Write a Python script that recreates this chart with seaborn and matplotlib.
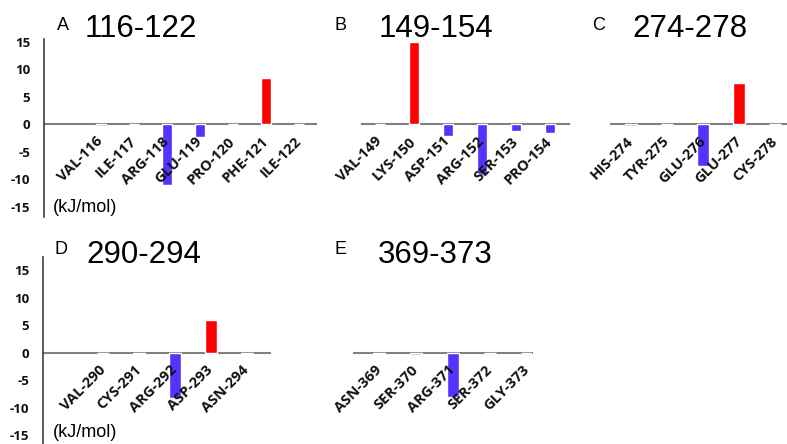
import matplotlib
matplotlib.use("Agg")
import matplotlib.pyplot as plt
import seaborn as sns

# Datos por panel (kJ/mol)
a_labels = ["VAL-116", "ILE-117", "ARG-118", "GLU-119", "PRO-120", "PHE-121", "ILE-122"]
a_values = [-0.3, 0, -11.1, -2.4, 0, 8.4, 0]

b_labels = ["VAL-149", "LYS-150", "ASP-151", "ARG-152", "SER-153", "PRO-154"]
b_values = [0, 14.9, -2.2, -9.1, -1.3, -1.7]

c_labels = ["HIS-274", "TYR-275", "GLU-276", "GLU-277", "CYS-278"]
c_values = [-0.4, 0, -7.6, 7.5, 0]

d_labels = ["VAL-290", "CYS-291", "ARG-292", "ASP-293", "ASN-294"]
d_values = [0, -0.2, -8.3, 6.0, -0.2]

e_labels = ["ASN-369", "SER-370", "ARG-371", "SER-372", "GLY-373"]
e_values = [-0.2, -0.4, -8.1, 0, -0.1]

y_ticks = [-15, -10, -5, 0, 5, 10, 15]

RED = "#FF0000"
BLUE = "#5533FF"
FAINT = "#9DC3E6"

sns.set_theme(style="white")
plt.rcParams.update({
    "font.family": ["Open Sans", "DejaVu Sans"],
    "axes.facecolor": "white",
    "figure.facecolor": "white",
    "text.color": "black",
})

W, H = 787, 444
fig = plt.figure(figsize=(W / 100, H / 100), dpi=100)


def bar_color(v):
    if v > 1:
        return RED
    if v < -1:
        return BLUE
    return FAINT


def panel(x0, x1, top, bottom, zero, xlim, labels, values, yaxis):
    ax = fig.add_axes([x0 / W, 1 - bottom / H, (x1 - x0) / W, (bottom - top) / H])
    colors = [bar_color(v) for v in values]
    sns.barplot(x=labels, y=values, hue=labels, palette=colors, legend=False,
                width=0.32, saturation=1, ax=ax)
    scale = 5.5
    ax.set_ylim((zero - bottom) / scale, (zero - top) / scale)
    ax.set_xlim(*xlim)
    ax.set_xlabel("")
    ax.set_ylabel("")
    # etiquetas por encima de las barras, como en el original
    ax.set_axisbelow(False)

    for s in ["top", "right"]:
        ax.spines[s].set_visible(False)
    ax.spines["bottom"].set_position(("data", 0))
    ax.spines["bottom"].set_color("#808080")
    ax.spines["bottom"].set_linewidth(1.5)
    ax.spines["bottom"].set_zorder(0.5)

    ax.set_xticks(range(len(labels)))
    ax.set_xticklabels(labels, rotation=45, ha="right", va="center",
                       rotation_mode="anchor", fontweight="bold", fontsize=10.5,
                       color="#111111")
    ax.tick_params(axis="x", length=0, pad=11)

    if yaxis:
        ax.spines["left"].set_color("#404040")
        ax.spines["left"].set_linewidth(1.2)
        ax.set_yticks(y_ticks)
        ax.set_yticklabels([str(t) for t in y_ticks], fontweight="bold",
                           fontsize=9.5, color="#111111")
        ax.tick_params(axis="y", length=0, pad=10)
    else:
        ax.spines["left"].set_visible(False)
        ax.set_yticks([])
    return ax


panel(44, 316, 39, 217, 124, (-1.73, 6.52), a_labels, a_values, True)
panel(362, 569, 39, 217, 124, (-0.53, 5.56), b_labels, b_values, False)
panel(611, 800, 39, 217, 124, (-0.56, 4.69), c_labels, c_values, False)
panel(43, 270, 257, 444, 352.5, (-1.67, 4.64), d_labels, d_values, True)
panel(354, 532, 257, 444, 352.5, (-0.68, 4.14), e_labels, e_values, False)


def ftext(x, y, s, **kw):
    fig.text(x / W, 1 - y / H, s, ha="left", va="baseline", color="black", **kw)


letter_kw = dict(fontsize=13, family=["Liberation Sans", "DejaVu Sans"])
title_kw = dict(fontsize=22.5, family=["Liberation Sans", "DejaVu Sans"])

ftext(57, 30, "A", **letter_kw)
ftext(85, 37, "116-122", **title_kw)
ftext(335, 30, "B", **letter_kw)
ftext(379, 37, "149-154", **title_kw)
ftext(592, 30, "C", **letter_kw)
ftext(632, 37, "274-278", **title_kw)
ftext(54, 254, "D", **letter_kw)
ftext(86, 263, "290-294", **title_kw)
ftext(335, 254, "E", **letter_kw)
ftext(378, 263, "369-373", **title_kw)

unit_kw = dict(fontsize=13, family=["Liberation Sans", "DejaVu Sans"])
ftext(53, 212, "(kJ/mol)", **unit_kw)
ftext(53, 437, "(kJ/mol)", **unit_kw)

fig.savefig("out.png", dpi=100)
